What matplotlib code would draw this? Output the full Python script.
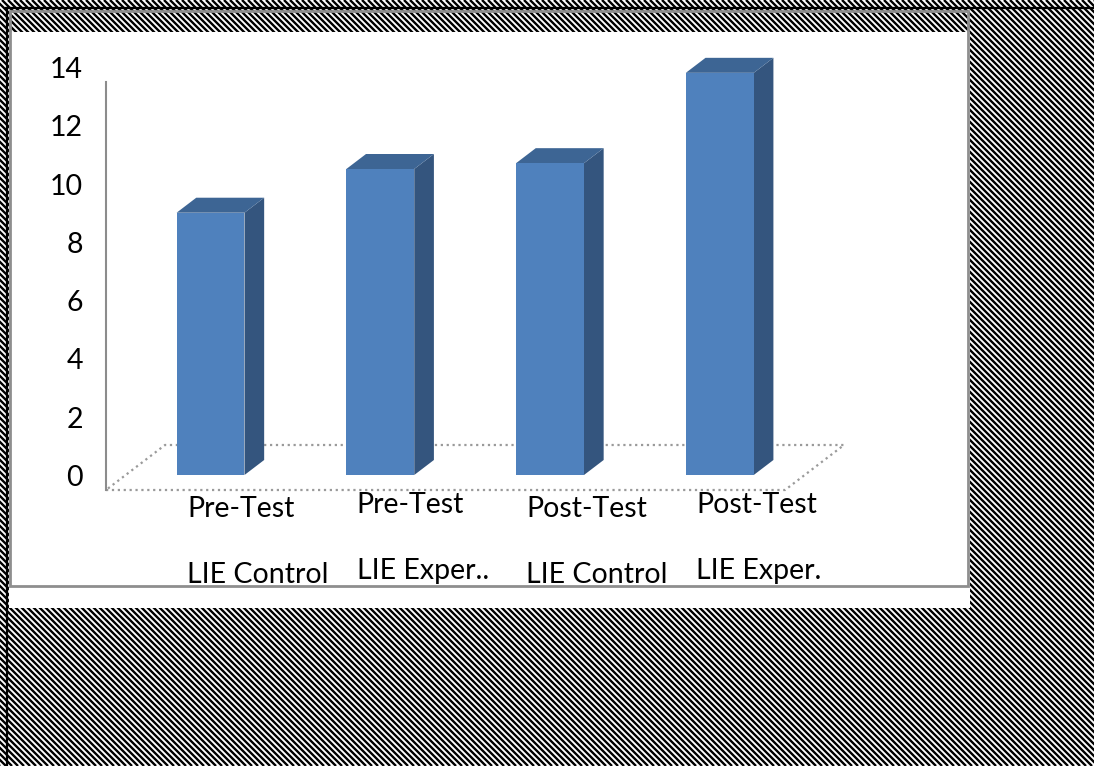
import numpy as np
import matplotlib.pyplot as plt
from matplotlib import font_manager
from matplotlib.patches import Rectangle, Polygon
from matplotlib.lines import Line2D
from matplotlib.collections import LineCollection
from matplotlib.transforms import IdentityTransform, ScaledTranslation

# data
labels_top = ['Pre-Test', 'Pre-Test', 'Post-Test', 'Post-Test']
labels_bottom = ['LIE Control', 'LIE Exper..', 'LIE Control', 'LIE Exper.']
values = [9.0, 10.5, 10.7, 13.8]
yticks = [0, 2, 4, 6, 8, 10, 12, 14]

W, H = 1094, 766

# a narrow face if one is installed, otherwise Lato
names = {f.name for f in font_manager.fontManager.ttflist}
if 'Liberation Sans Narrow' in names:
    font, fsize = 'Liberation Sans Narrow', 21
else:
    font, fsize = 'Lato', 20.5
plt.rcParams['font.family'] = [font, 'DejaVu Sans']

fig = plt.figure(figsize=(W / 100, H / 100), dpi=100)


def fx(px):
    return px / W


def fy(py):
    return 1 - py / H


# diagonal stripes behind everything
period = 6
segs = [[(x, H), (x + H, 0)] for x in np.arange(-H, W + period, period)]
fig.add_artist(LineCollection(segs, colors='black', linewidths=1.7,
                              transform=IdentityTransform(), zorder=0))

# white chart area and frames
fig.patches.append(Rectangle((fx(9), fy(608)), (970 - 9) / W, (608 - 32) / H,
                             transform=fig.transFigure, facecolor='white',
                             edgecolor='none', zorder=1))
fig.patches.append(Rectangle((fx(9.5), fy(586)), (968 - 9.5) / W, (586 - 11) / H,
                             transform=fig.transFigure, fill=False,
                             edgecolor='#8e8e8e', linewidth=2, zorder=2))
fig.add_artist(Line2D([fx(6), 1], [fy(8), fy(8)], color='black', lw=1.6,
                      transform=fig.transFigure, zorder=3))
fig.add_artist(Line2D([fx(7), fx(7)], [0, fy(8)], color='black', lw=1.6,
                      transform=fig.transFigure, zorder=3))

# front plane of the 3d chart
ax = fig.add_axes([fx(106), fy(490), (785 - 106) / W, (490 - 82) / H])
ax.set_zorder(5)
ax.set_xlim(-0.5, 3.5)
ax.set_ylim(0, 14)
ax.patch.set_visible(False)
for s in ['top', 'right', 'bottom']:
    ax.spines[s].set_visible(False)
ax.spines['left'].set_color('#8c8c8c')
ax.spines['left'].set_linewidth(1.5)
ax.set_xticks([])
ax.set_yticks([])

depth = np.array([59.0, 45.0])  # pixel offset of the full floor depth


def disp(x, y, d):
    return ax.transData.transform((x, y)) + d * depth


# floor
floor = [disp(-0.5, 0, 0), disp(3.5, 0, 0), disp(3.5, 0, 1), disp(-0.5, 0, 1)]
ax.add_patch(Polygon(floor, closed=True, fill=False, edgecolor='#9a9a9a',
                     linestyle=':', linewidth=1.6, transform=IdentityTransform(),
                     clip_on=False, zorder=1))

# bars
bw = 0.2
d0, d1 = 1 / 3, 2 / 3
for i, v in enumerate(values):
    x0, x1 = i - bw, i + bw
    front = [disp(x0, 0, d0), disp(x1, 0, d0), disp(x1, v, d0), disp(x0, v, d0)]
    side = [disp(x1, 0, d0), disp(x1, 0, d1), disp(x1, v, d1), disp(x1, v, d0)]
    top = [disp(x0, v, d0), disp(x1, v, d0), disp(x1, v, d1), disp(x0, v, d1)]
    for pts, col in [(side, '#34557e'), (top, '#3d6594'), (front, '#4f81bd')]:
        ax.add_patch(Polygon(pts, closed=True, facecolor=col, edgecolor='none',
                             transform=IdentityTransform(), clip_on=False,
                             zorder=2))

# y tick labels
ylab_tr = ax.transData + ScaledTranslation(-0.23, 0.12, fig.dpi_scale_trans)
for t in yticks:
    ax.text(-0.5, t, str(t), transform=ylab_tr, ha='right', va='center',
            fontsize=fsize, color='black')

# category labels (two lines, slightly staggered)
for i in range(len(values)):
    up = 0.04 if i % 2 else 0.0
    tr1 = ax.transData + ScaledTranslation(-0.04, -0.27 + up, fig.dpi_scale_trans)
    tr2 = ax.transData + ScaledTranslation(-0.04, -0.93 + up, fig.dpi_scale_trans)
    ax.text(i, 0, labels_top[i], transform=tr1, ha='left', va='baseline',
            fontsize=fsize, color='black')
    ax.text(i, 0, labels_bottom[i], transform=tr2, ha='left', va='baseline',
            fontsize=fsize, color='black')

fig.savefig('out.png', dpi=100)
